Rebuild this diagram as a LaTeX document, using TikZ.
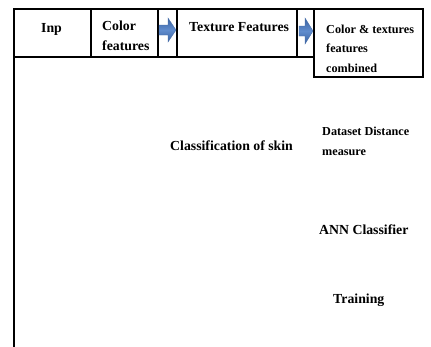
\documentclass[tikz,border=0pt]{standalone}
\usepackage{fontspec}
\setmainfont{Liberation Serif}
\begin{document}
\begin{tikzpicture}[x=1pt,y=-1pt,
  rule/.style={line width=1.8pt, line cap=rect},
  lbl/.style={inner sep=0pt, anchor=base west, align=left,
    font=\bfseries\fontsize{13.8}{20}\selectfont},
  slbl/.style={lbl, font=\bfseries\fontsize{12.2}{19.5}\selectfont},
  blockarrow/.style={draw=arrowedge, line width=0.4pt, top color=arrowdark, bottom color=arrowdark, middle color=arrowlight}
]
\definecolor{arrowdark}{RGB}{58,98,160}
\definecolor{arrowlight}{RGB}{96,140,205}
\definecolor{arrowedge}{RGB}{70,110,170}
\useasboundingbox (0,0) rectangle (431,346);
% table rules
\draw[rule] (14,346) -- (14,9) -- (423,9) -- (423,77) -- (314,77) -- (314,9);
\draw[rule] (14,57) -- (314,57);
\draw[rule] (91,9) -- (91,57);
\draw[rule] (158,9) -- (158,57);
\draw[rule] (177,9) -- (177,57);
\draw[rule] (297,9) -- (297,57);
% block arrows
\shade[blockarrow] (159,25) -- (168,25) -- (168,18) -- (176,30) -- (168,42) -- (168,35) -- (159,35) -- cycle;
\shade[blockarrow] (299,26) -- (305,26) -- (305,18) -- (313,31) -- (305,44) -- (305,36) -- (299,36) -- cycle;
% labels (base anchor = baseline of last line)
\node[lbl] (inp) at (41,32) {Inp};
\node[lbl] (color) at (102,50) {Color\\features};
\node[lbl] (texture) at (189,31) {Texture Features};
\node[slbl] (combined) at (326,72) {Color \& textures\\features\\combined};
\node[lbl] (classif) at (170,150) {Classification of skin};
\node[slbl] (dataset) at (322,155) {Dataset Distance\\measure};
\node[lbl] (ann) at (319,234) {ANN Classifier};
\node[lbl] (training) at (333,303) {Training};
\end{tikzpicture}
\end{document}
